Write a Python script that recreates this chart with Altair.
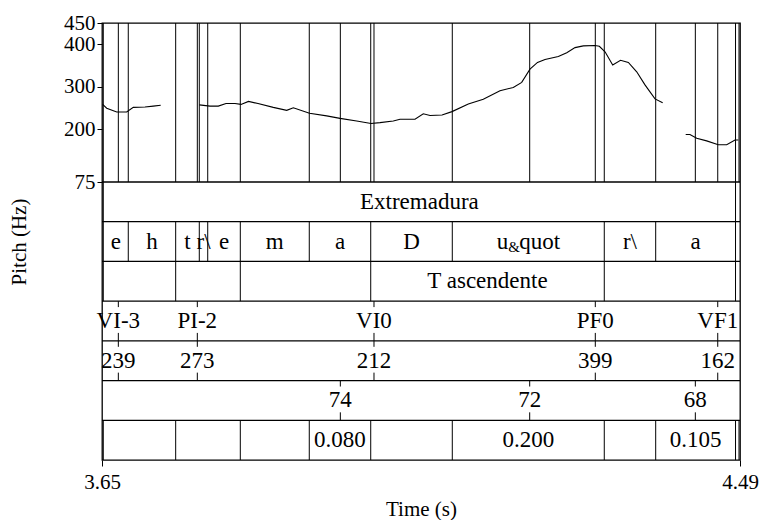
import altair as alt
import pandas as pd

# ---------------- data ----------------
T_START, T_END = 3.65, 4.49

# pitch contour (three voiced stretches)
seg1_t = [3.6509, 3.6562, 3.6694, 3.6825, 3.6912, 3.7066, 3.7175, 3.7273]
seg1_hz = [258, 249, 240, 240, 251, 252, 254, 256]

seg2_t = [3.7781, 3.7922, 3.8031, 3.8133, 3.8251, 3.8330, 3.8429, 3.8554, 3.8755,
          3.8932, 3.9019, 3.9232, 3.9458, 3.9634, 3.9853, 4.0042, 4.0160, 4.0335,
          4.0424, 4.0621, 4.0730, 4.0819, 4.0977, 4.1108, 4.1323, 4.1520, 4.1740,
          4.1915, 4.2026, 4.2135, 4.2234, 4.2333, 4.2508, 4.2619, 4.2728, 4.2837,
          4.2991, 4.3048, 4.3123, 4.3224, 4.3327, 4.3430, 4.3540, 4.3649, 4.3781,
          4.3882]
seg2_hz = [257, 254, 254, 260, 260, 258, 265, 260, 251,
           244, 250, 237, 231, 225, 219, 213, 215, 219,
           223, 223, 236, 232, 233, 241, 259, 270, 290,
           298, 310, 341, 357, 364, 371, 380, 392, 396,
           397, 395, 382, 351, 362, 357, 335, 304, 271,
           262]

seg3_t = [4.4185, 4.4241, 4.4330, 4.4461, 4.4614, 4.4725, 4.4834, 4.4878]
seg3_hz = [187, 187, 178, 172, 163, 163, 174, 174]

# tiers
word_bounds = [3.6517, 4.4841]
word_labels = ["Extremadura"]

phone_bounds = [3.6517, 3.6846, 3.7470, 3.7781, 3.7892, 3.8321, 3.9229, 4.0038,
                4.1112, 4.3113, 4.3790, 4.4841]
phone_labels = ["e", "h", "t", "r\\", "e", "m", "a", "D", "u_&quot", "r\\", "a"]

tone_bounds = [3.6517, 3.7470, 3.8321, 4.0038, 4.3113, 4.4841]
tone_labels = ["", "", "", "T ascendente", ""]

tag_times = [3.6715, 3.7755, 4.0081, 4.2995, 4.4607]
tag_labels = ["VI-3", "PI-2", "VI0", "PF0", "VF1"]
f0_labels = ["239", "273", "212", "399", "162"]

db_times = [3.9638, 4.2131, 4.4312]
db_labels = ["74", "72", "68"]

dur_bounds = [3.6517, 3.7470, 3.8321, 3.9229, 4.0038, 4.1112, 4.3113, 4.3790,
              4.4841, 4.4887]
dur_labels = ["", "", "", "0.080", "", "0.200", "", "0.105", ""]

tiers = [
    ("interval", word_bounds, word_labels),
    ("interval", phone_bounds, phone_labels),
    ("interval", tone_bounds, tone_labels),
    ("point", tag_times, tag_labels),
    ("point", tag_times, f0_labels),
    ("point", db_times, db_labels),
    ("interval", dur_bounds, dur_labels),
]

# ---------------- tables ----------------
pitch_rows = []
for k, (ts, hs) in enumerate([(seg1_t, seg1_hz), (seg2_t, seg2_hz), (seg3_t, seg3_hz)]):
    for t, h in zip(ts, hs):
        pitch_rows.append({"t": t, "hz": h, "seg": k})
pitch_df = pd.DataFrame(pitch_rows)

bound_rows, tick_rows, label_rows, sub_rows = [], [], [], []
all_times = set()
for i, (kind, times, labels) in enumerate(tiers):
    if kind == "interval":
        for b in times:
            bound_rows.append({"t": b, "y0": i, "y1": i + 1})
            all_times.add(round(b, 4))
        for j, lab in enumerate(labels):
            mid = (times[j] + times[j + 1]) / 2
            if "_" in lab:
                base, rest = lab.split("_", 1)
                sub, tail = rest[0], rest[1:]
                sub_rows.append({"t": mid, "y": i + 0.5, "base": base, "sub": sub, "tail": tail})
            elif lab:
                label_rows.append({"t": mid, "y": i + 0.5, "text": lab})
    else:
        for t, lab in zip(times, labels):
            tick_rows.append({"t": t, "y0": i, "y1": i + 0.15})
            tick_rows.append({"t": t, "y0": i + 0.8, "y1": i + 1})
            label_rows.append({"t": t, "y": i + 0.5, "text": lab})
            all_times.add(round(t, 4))

bound_df = pd.DataFrame(bound_rows)
tick_df = pd.DataFrame(tick_rows)
label_df = pd.DataFrame(label_rows)
sub_df = pd.DataFrame(sub_rows)
sep_df = pd.DataFrame({"y": list(range(len(tiers)))})
vline_df = pd.DataFrame({"t": sorted(all_times), "top": 450, "bot": 75})

# ---------------- scales / axes ----------------
FONT = "Liberation Serif"
FS = 23      # tier text
AFS = 21     # axis labels
TFS = 21     # axis titles

axis_style = dict(labelFont=FONT, labelFontSize=AFS, labelColor="black",
                  titleFont=FONT, titleFontSize=TFS, titleFontWeight="normal",
                  titleColor="black", tickColor="black", tickWidth=1,
                  grid=False, domain=False)

xscale = alt.Scale(domain=[T_START, T_END], nice=False, zero=False)
xaxis = alt.Axis(values=[T_START, T_END], format=".2f", tickSize=6, labelPadding=5,
                 labelFlush=False, title="Time (s)", titleY=55,
                 titleBaseline="alphabetic", **axis_style)
pitch_scale = alt.Scale(domain=[75, 450], range=[159, 0], nice=False, zero=False)
tier_scale = alt.Scale(domain=[0, len(tiers)], range=[159, 437], nice=False, zero=False)
yaxis = alt.Axis(values=[75, 200, 300, 400, 450], tickSize=5, labelPadding=2,
                 labelOverlap=False, title="Pitch (Hz)", titleX=-83, titleY=218.5,
                 titleBaseline="middle", **axis_style)


def X(field="t"):
    return alt.X(f"{field}:Q", scale=xscale, axis=xaxis)


def TY(field):
    return alt.Y(f"{field}:Q", scale=tier_scale, axis=None)


pitch_line = alt.Chart(pitch_df).mark_line(color="black", strokeWidth=1.1).encode(
    x=X(), y=alt.Y("hz:Q", scale=pitch_scale, axis=yaxis), detail="seg:N"
)

vlines = alt.Chart(vline_df).mark_rule(color="black", strokeWidth=1).encode(
    x=X(), y=alt.Y("top:Q", scale=pitch_scale, axis=None), y2="bot:Q"
)

seps = alt.Chart(sep_df).mark_rule(color="black", strokeWidth=1.3).encode(
    y=TY("y")
)

bounds = alt.Chart(bound_df).mark_rule(color="black", strokeWidth=1).encode(
    x=X(), y=TY("y0"), y2="y1:Q"
)

ticks = alt.Chart(tick_df).mark_rule(color="black", strokeWidth=1).encode(
    x=X(), y=TY("y0"), y2="y1:Q"
)

labels = alt.Chart(label_df).mark_text(
    font=FONT, fontSize=FS, baseline="middle", align="center", color="black"
).encode(x=X(), y=TY("y"), text="text:N")

sub_base = alt.Chart(sub_df).mark_text(
    font=FONT, fontSize=FS, baseline="middle", align="right", dx=-20, color="black"
).encode(x=X(), y=TY("y"), text="base:N")
sub_sub = alt.Chart(sub_df).mark_text(
    font=FONT, fontSize=15, baseline="middle", align="left", dx=-20, dy=5, color="black"
).encode(x=X(), y=TY("y"), text="sub:N")
sub_tail = alt.Chart(sub_df).mark_text(
    font=FONT, fontSize=FS, baseline="middle", align="left", dx=-9, color="black"
).encode(x=X(), y=TY("y"), text="tail:N")

chart = alt.layer(
    pitch_line, vlines, seps, bounds, ticks, labels, sub_base, sub_sub, sub_tail
).resolve_scale(y="independent").properties(
    width=638, height=437,
    autosize=alt.AutoSizeParams(type="none"),
    padding={"left": 102, "top": 23, "right": 21, "bottom": 60},
    background="white",
).configure_view(
    stroke="black", strokeWidth=1.3
)

chart.save("out.html", embed_options={"renderer": "svg", "actions": False})
